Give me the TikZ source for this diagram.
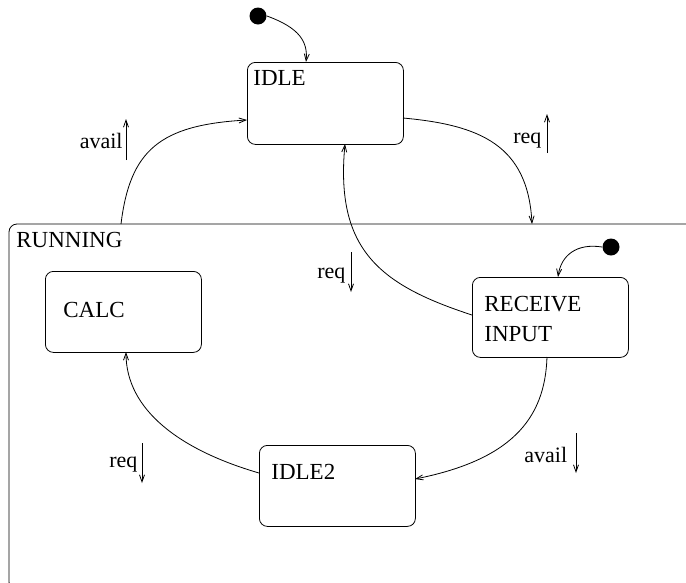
\documentclass[tikz,border=0pt]{standalone}
\usepackage{fontspec}
\setmainfont{Liberation Serif}
\usetikzlibrary{arrows.meta}
\begin{document}
\begin{tikzpicture}[x=1pt,y=-1pt,
  line width=0.8pt,
  >={Straight Barb[length=7pt,width=5pt]},
  state/.style={draw, rounded corners=8pt, anchor=north west, inner sep=0pt,
    minimum width=156pt, minimum height=81pt},
  txt/.style={anchor=base west, inner sep=0pt, font=\rmfamily\fontsize{23}{27}\selectfont},
  lab/.style={anchor=base west, inner sep=0pt, font=\rmfamily\fontsize{22}{26}\selectfont},
  conn/.style={->},
  initdot/.style={circle, fill=black, minimum size=17pt, inner sep=0pt}]
\useasboundingbox (0,0) rectangle (686,582);
\clip (0,0) rectangle (686,582);
% RUNNING superstate
\draw[rounded corners=8pt] (700,224) -- (9,224) -- (9,590) -- (700,590);
\node[txt] (runlab) at (16,247) {RUNNING};
\coordinate (runA) at (121,224);
\coordinate (runB) at (532,224);
% states
\node[state, minimum height=82pt] (idle) at (247,62) {};
\node[txt] at (253,85) {IDLE};
\node[state, minimum height=81pt] (calc) at (45,271) {};
\node[txt] at (63,317) {CALC};
\node[state, minimum height=80pt] (recv) at (472,277) {};
\node[txt] at (484,311) {RECEIVE};
\node[txt] at (484,341) {INPUT};
\node[state, minimum height=81pt] (idle2) at (259,445) {};
\node[txt] at (271,479) {IDLE2};
% initial states
\node[initdot] (init1) at (258,16) {};
\node[initdot] (init2) at (611,247) {};
\coordinate (i1end) at (306,62);
\coordinate (i2end) at (558,277);
\draw[conn] (init1.east) .. controls (300,28) and (308,42) .. (i1end);
\draw[conn] (init2.west) .. controls (577,243) and (561,255) .. (i2end);
% transitions
\coordinate (idleL) at (247,120);
\coordinate (idleR) at (403,118);
\coordinate (idleB) at (345,144);
\coordinate (recvL) at (472,315);
\coordinate (recvB) at (547,357);
\coordinate (idle2R) at (415,479);
\coordinate (idle2L) at (259,473);
\coordinate (calcB) at (126,352);
\draw[conn] (runA) .. controls (130,150) and (160,125) .. (idleL);
\draw[conn] (idleR) .. controls (480,125) and (528,145) .. (runB);
\draw[conn] (recvL) .. controls (380,285) and (335,250) .. (idleB);
\draw[conn] (recvB) .. controls (545,420) and (510,460) .. (idle2R);
\draw[conn] (idle2L) .. controls (180,450) and (126,410) .. (calcB);
% labels with direction arrows
\node[lab, anchor=base east] (l1) at (123,148) {avail};
\coordinate (a1s) at (126,160); \coordinate (a1e) at (126,119);
\draw[->] (a1s) -- (a1e);
\node[lab] (l2) at (513,143) {req};
\coordinate (a2s) at (547,153); \coordinate (a2e) at (547,114);
\draw[->] (a2s) -- (a2e);
\node[lab] (l3) at (317,278) {req};
\coordinate (a3s) at (351,252); \coordinate (a3e) at (351,292);
\draw[->] (a3s) -- (a3e);
\node[lab] (l4) at (524,462) {avail};
\coordinate (a4s) at (576,433); \coordinate (a4e) at (576,473);
\draw[->] (a4s) -- (a4e);
\node[lab] (l5) at (109,467) {req};
\coordinate (a5s) at (142,443); \coordinate (a5e) at (142,483);
\draw[->] (a5s) -- (a5e);
\end{tikzpicture}
\end{document}
